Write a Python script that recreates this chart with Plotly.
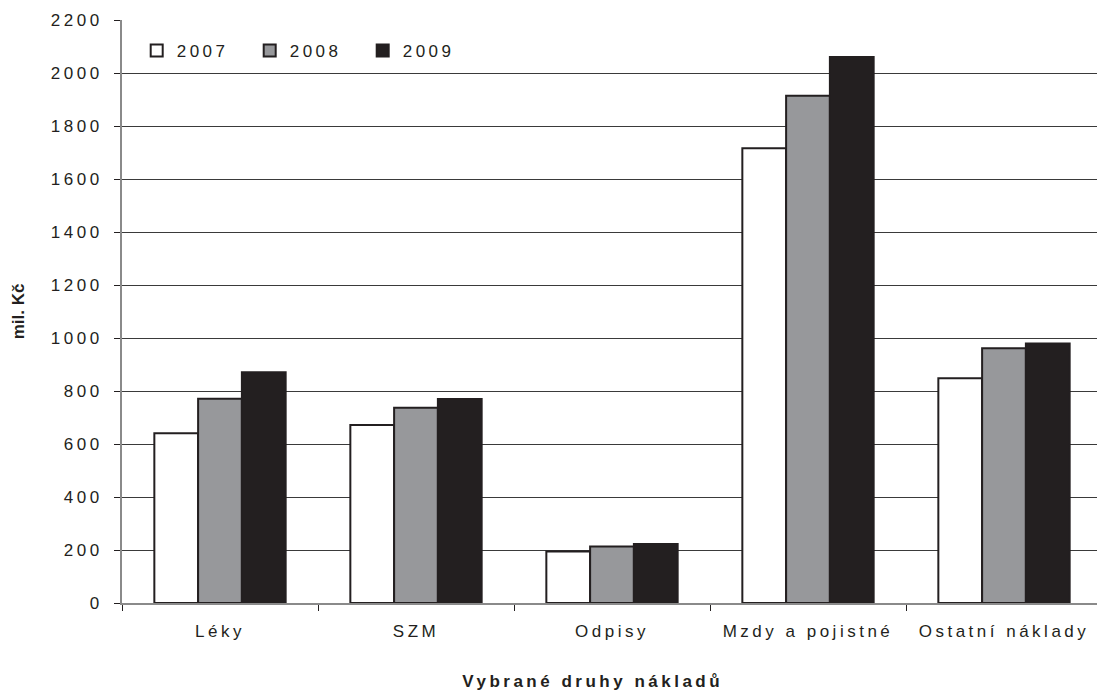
import plotly.graph_objects as go

categories = ["Léky", "SZM", "Odpisy", "Mzdy a pojistné", "Ostatní náklady"]
years = ["2007", "2008", "2009"]
v2007 = [641, 672, 194, 1716, 848]
v2008 = [771, 737, 213, 1914, 961]
v2009 = [871, 770, 223, 2060, 979]
colors = ["#ffffff", "#97989b", "#231f20"]
y_ticks = list(range(0, 2201, 200))

fig = go.Figure()
for name, vals, col in zip(years, [v2007, v2008, v2009], colors):
    fig.add_trace(go.Bar(
        x=categories, y=vals, name=name,
        marker=dict(color=col, line=dict(color="#231f20", width=2)),
    ))

font_family = "Liberation Sans, Arial, sans-serif"
fig.update_layout(
    width=1097, height=688,
    margin=dict(l=114, r=3, t=12, b=93),
    paper_bgcolor="white", plot_bgcolor="white",
    barmode="group", bargap=0.33, bargroupgap=0,
    font=dict(family=font_family, size=17, color="#231f20"),
    showlegend=True,
    legend=dict(orientation="h", x=0.015, y=0.978, xanchor="left", yanchor="top",
                bgcolor="rgba(0,0,0,0)", font=dict(size=17), traceorder="normal",
                itemwidth=30, entrywidth=68),
    xaxis=dict(
        type="category", tickson="boundaries", ticks="outside", ticklen=6,
        tickcolor="#231f20", showline=True, linecolor="#8a8a8a", linewidth=2,
        mirror=False, showgrid=False, automargin=False,
        tickfont=dict(size=17), ticklabelstandoff=12,
    ),
    yaxis=dict(
        range=[0, 2200], tickvals=y_ticks, ticks="outside", ticklen=6,
        tickcolor="#231f20", showline=True, linecolor="#8a8a8a", linewidth=2,
        showgrid=True, gridcolor="#3a3a3a", gridwidth=1, zeroline=False,
        automargin=False,
        title=dict(text="<b>mil. Kč</b>", font=dict(size=17), standoff=36),
        tickfont=dict(size=17), ticklabelstandoff=8,
    ),
    annotations=[dict(
        text="<b>Vybrané druhy nákladů</b>", xref="paper", yref="paper",
        x=0.48, y=-0.135, xanchor="center", yanchor="middle", showarrow=False,
        font=dict(size=17), name="xtitle",
    )],
)
# right border of plot area
fig.add_shape(type="line", xref="paper", yref="paper", x0=1, x1=1, y0=0, y1=1,
              line=dict(color="#8a8a8a", width=2))

post = """
var st = document.createElement('style');
st.textContent = '.xtick text, .ytick text, .legendtext {letter-spacing: 3.5px;} .annotation-text {letter-spacing: 3.5px;}';
document.head.appendChild(st);
"""
fig.write_html("out.html", post_script=post)
